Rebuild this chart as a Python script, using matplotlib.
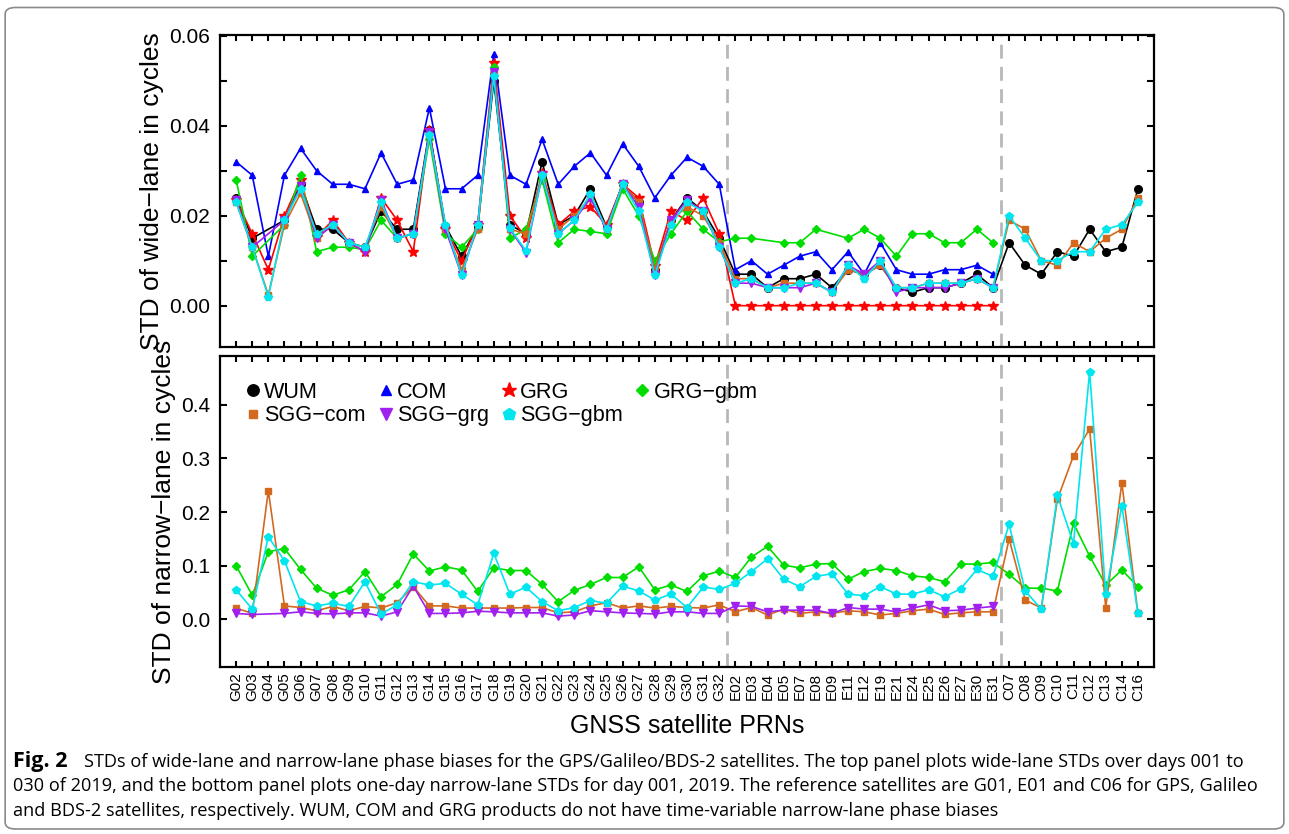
import numpy as np
import matplotlib
matplotlib.use('Agg')
import matplotlib.pyplot as plt
from matplotlib.lines import Line2D
from matplotlib.patches import FancyBboxPatch

plt.rcParams['font.family'] = ['Liberation Sans', 'DejaVu Sans']

nan = np.nan

# satellite PRNs
gps = ['G%02d' % k for k in range(2, 33)]
gal = ['E02', 'E03', 'E04', 'E05', 'E07', 'E08', 'E09', 'E11', 'E12', 'E19',
       'E21', 'E24', 'E25', 'E26', 'E27', 'E30', 'E31']
bds = ['C07', 'C08', 'C09', 'C10', 'C11', 'C12', 'C13', 'C14', 'C16']
prns = gps + gal + bds

# wide-lane STDs (cycles)
wl_wum = [.024, .015, nan, .019, .027, .017, .017, .014, .013, .021, .017, .017, .039, .0177, .011, .0176,
          .050, .018, .016, .032, .018, .020, .026, .0175, .027, .023, .008, .019, .024, .021, .015,
          .007, .007, .004, .006, .006, .007, .004, .008, .007, .009, .004, .003, .004, .004, .005, .007, .004,
          .014, .009, .007, .012, .011, .017, .012, .013, .026]
wl_com = [.032, .029, .011, .029, .035, .030, .027, .027, .026, .034, .027, .028, .044, .026, .026, .029,
          .056, .029, .027, .037, .027, .031, .034, .029, .036, .031, .024, .029, .033, .031, .027,
          .008, .010, .007, .009, .011, .012, .008, .012, .007, .014, .008, .007, .007, .008, .008, .009, .007,
          nan, nan, nan, nan, nan, nan, nan, nan, nan]
wl_grg = [.0235, .016, .008, .020, .028, .0153, .019, .014, .012, .024, .019, .012, .039, .017, .010, .018,
          .054, .020, .015, .0294, .018, .021, .022, .018, .027, .024, .0088, .021, .019, .024, .016,
          0, 0, 0, 0, 0, 0, 0, 0, 0, 0, 0, 0, 0, 0, 0, 0, 0,
          nan, nan, nan, nan, nan, nan, nan, nan, nan]
wl_grg_gbm = [.028, .011, nan, .018, .029, .012, .013, .013, .0125, .019, .015, .016, .037, .016, .013, .017,
              .053, .015, .017, .028, .014, .017, .0165, .016, .026, .020, .010, .016, .021, .017, .0142,
              .015, .015, nan, .014, .014, .017, nan, .015, .017, .015, .011, .016, .016, .014, .014, .017, .014,
              nan, nan, nan, nan, nan, nan, nan, nan, nan]
wl_sgg_com = [.023, .013, .0024, .018, .025, .015, .018, .014, .013, .022, .015, .016, .038, .017, .008, .017,
              .052, .017, .016, .029, .017, .020, .024, .017, .027, .023, .008, .019, .022, .020, .014,
              .006, .006, .004, .005, .005, .005, .003, .008, .007, .009, .004, .004, .005, .005, .005, .006, .004,
              .019, .017, .010, .009, .014, .012, .015, .017, .024]
wl_sgg_grg = [.0235, .013, nan, .019, .0266, .015, .018, .014, .012, .0235, .015, .016, .0387, .017, .0068, .018,
              .052, .017, .0118, .029, .016, .019, .0239, .017, .027, .022, .0068, .019, .0235, .021, .013,
              .005, .005, .004, .004, .004, .005, .003, .009, .007, .010, .003, .004, .004, .004, .005, .006, .004,
              nan, nan, nan, nan, nan, nan, nan, nan, nan]
wl_sgg_gbm = [.023, .013, .002, .019, .026, .016, .018, .014, .013, .023, .015, .016, .038, .018, .0068, .018,
              .051, .0172, .0122, .029, .016, .019, .0248, .017, .027, .021, .0068, .018, .023, .021, .013,
              .005, .006, .004, .004, .005, .005, .003, .009, .006, .010, .004, .004, .005, .005, .005, .006, .004,
              .020, .015, .010, .010, .012, .012, .017, .018, .023]

# narrow-lane STDs (cycles), day 001
nl_grg_gbm = [.100, .045, .126, .132, .093, .058, .045, .055, .089, .042, .065, .122, .090, .098, .092, .052,
              .096, .091, .091, .065, .033, .054, .065, .078, .078, .098, .055, .064, .052, .081, .090,
              .078, .116, .136, .101, .096, .103, .104, .075, .089, .095, .091, .081, .078, .070, .103, .103, .106,
              .084, .058, .058, .053, .179, .118, .064, .092, .061]
nl_sgg_com = [.021, .011, .240, .025, .022, .016, .024, .016, .024, .021, .031, .061, .025, .025, .021, .021,
              .021, .021, .022, .022, .012, .014, .025, .031, .021, .025, .021, .024, .022, .021, .027,
              .014, .022, .008, .019, .011, .014, .011, .016, .014, .008, .011, .016, .019, .009, .012, .014, .014,
              .150, .036, .021, .224, .305, .355, .022, .255, .011]
nl_sgg_grg = [.011, .009, nan, .011, .014, .011, .010, .012, .012, .006, .014, .062, .011, .011, .012, .015,
              .014, .012, .012, .012, .006, .008, .016, .014, .012, .011, .010, .014, .014, .011, .011,
              .025, .024, .014, .017, .017, .017, .011, .022, .019, .019, .014, .021, .027, .016, .017, .021, .024,
              nan, nan, nan, nan, nan, nan, nan, nan, nan]
nl_sgg_gbm = [.055, .019, .154, .109, .033, .025, .030, .024, .070, .010, .027, .070, .064, .067, .047, .027,
              .123, .047, .060, .033, .016, .022, .035, .030, .062, .053, .036, .047, .022, .060, .056,
              .067, .089, .113, .075, .061, .080, .085, .047, .044, .061, .047, .047, .055, .042, .057, .093, .080,
              .177, .053, .019, .231, .141, .462, .047, .212, .011]

x = np.arange(len(prns))

# name -> colour, marker, size
styles = {
    'WUM': ('black', 'o', 5.5),
    'COM': ('#0000ff', '^', 5),
    'GRG': ('#ff0000', '*', 7.5),
    'GRG\u2212gbm': ('#00dd00', 'D', 4.2),
    'SGG\u2212com': ('#d2691e', 's', 4.2),
    'SGG\u2212grg': ('#a020f0', 'v', 6),
    'SGG\u2212gbm': ('#00e5ee', 'p', 6),
}


def draw(ax, vals, name):
    v = np.array(vals, dtype=float)
    ok = ~np.isnan(v)
    c, m, s = styles[name]
    ax.plot(x[ok], v[ok], color=c, marker=m, ms=s, lw=1.2, mec=c, mfc=c)


fig = plt.figure(figsize=(12.89, 8.34), dpi=100)
ax1 = fig.add_axes([0.1707, 0.5839, 0.7246, 0.3741])
ax2 = fig.add_axes([0.1707, 0.2002, 0.7246, 0.3729])

draw(ax1, wl_wum, 'WUM')
draw(ax1, wl_com, 'COM')
draw(ax1, wl_grg, 'GRG')
draw(ax1, wl_grg_gbm, 'GRG\u2212gbm')
draw(ax1, wl_sgg_com, 'SGG\u2212com')
draw(ax1, wl_sgg_grg, 'SGG\u2212grg')
draw(ax1, wl_sgg_gbm, 'SGG\u2212gbm')

draw(ax2, nl_grg_gbm, 'GRG\u2212gbm')
draw(ax2, nl_sgg_com, 'SGG\u2212com')
draw(ax2, nl_sgg_grg, 'SGG\u2212grg')
draw(ax2, nl_sgg_gbm, 'SGG\u2212gbm')

for ax in (ax1, ax2):
    ax.set_xlim(-1, len(prns))
    ax.set_xticks(x)
    for xs in (len(gps) - 0.5, len(gps) + len(gal) - 0.5):
        ax.axvline(xs, color='#b8b8b8', ls=(0, (5, 3)), lw=2, zorder=0)
    ax.tick_params(direction='in', top=True, right=True, width=1.5, length=5,
                   labelsize=15, pad=7)
    ax.tick_params(axis='x', length=4)
    for sp in ax.spines.values():
        sp.set_linewidth(1.6)

ax1.set_ylim(-0.0092, 0.0602)
ax1.set_yticks([0.0, 0.02, 0.04, 0.06])
ax1.set_yticks([0.01, 0.03, 0.05], minor=True)
ax1.tick_params(which='minor', direction='in', right=True, width=1.5, length=5)
ax1.set_yticklabels(['0.00', '0.02', '0.04', '0.06'])
ax1.set_xticklabels([])
ax1.set_ylabel('STD of wide\u2212lane in cycles', fontsize=19, labelpad=4)

ax2.set_ylim(-0.089, 0.491)
ax2.set_yticks([0.0, 0.1, 0.2, 0.3, 0.4])
ax2.set_yticklabels(['0.0', '0.1', '0.2', '0.3', '0.4'])
ax2.set_xticklabels(prns, rotation=90, fontsize=11)
ax2.tick_params(axis='x', pad=4)
ax2.set_ylabel('STD of narrow\u2212lane in cycles', fontsize=19, labelpad=4)
ax2.set_xlabel('GNSS satellite PRNs', fontsize=18, labelpad=9)

order = ['WUM', 'SGG\u2212com', 'COM', 'SGG\u2212grg', 'GRG', 'SGG\u2212gbm', 'GRG\u2212gbm']
handles = [Line2D([], [], ls='none', marker=styles[n][1], color=styles[n][0],
                  ms=styles[n][2] * 1.5) for n in order]
ax2.legend(handles, order, ncol=4, loc='upper left', bbox_to_anchor=(0.005, 0.98),
           frameon=False, fontsize=15.6, handletextpad=0.1, columnspacing=0.5,
           labelspacing=0.12, handlelength=0.83)

# caption
fig.patches.append(FancyBboxPatch((0.004, 0.006), 0.992, 0.985,
                                  boxstyle='round,pad=0,rounding_size=0.008',
                                  transform=fig.transFigure, fill=False,
                                  edgecolor='#8a8a8a', lw=1.2))
cap = ['STDs of wide-lane and narrow-lane phase biases for the GPS/Galileo/BDS-2 satellites. '
       'The top panel plots wide-lane STDs over days 001 to',
       '030 of 2019, and the bottom panel plots one-day narrow-lane STDs for day 001, 2019. '
       'The reference satellites are G01, E01 and C06 for GPS, Galileo',
       'and BDS-2 satellites, respectively. WUM, COM and GRG products do not have '
       'time-variable narrow-lane phase biases']
fig.text(13 / 1289, 1 - 762 / 834, 'Fig. 2', fontsize=15.5, fontweight='bold',
         family='Open Sans', va='center')
fig.text(84 / 1289, 1 - 762 / 834, cap[0], fontsize=13.05, family='Open Sans', va='center')
fig.text(13 / 1289, 1 - 786 / 834, cap[1], fontsize=13.05, family='Open Sans', va='center')
fig.text(13 / 1289, 1 - 811 / 834, cap[2], fontsize=13.05, family='Open Sans', va='center')

fig.savefig('out.png', dpi=100)
